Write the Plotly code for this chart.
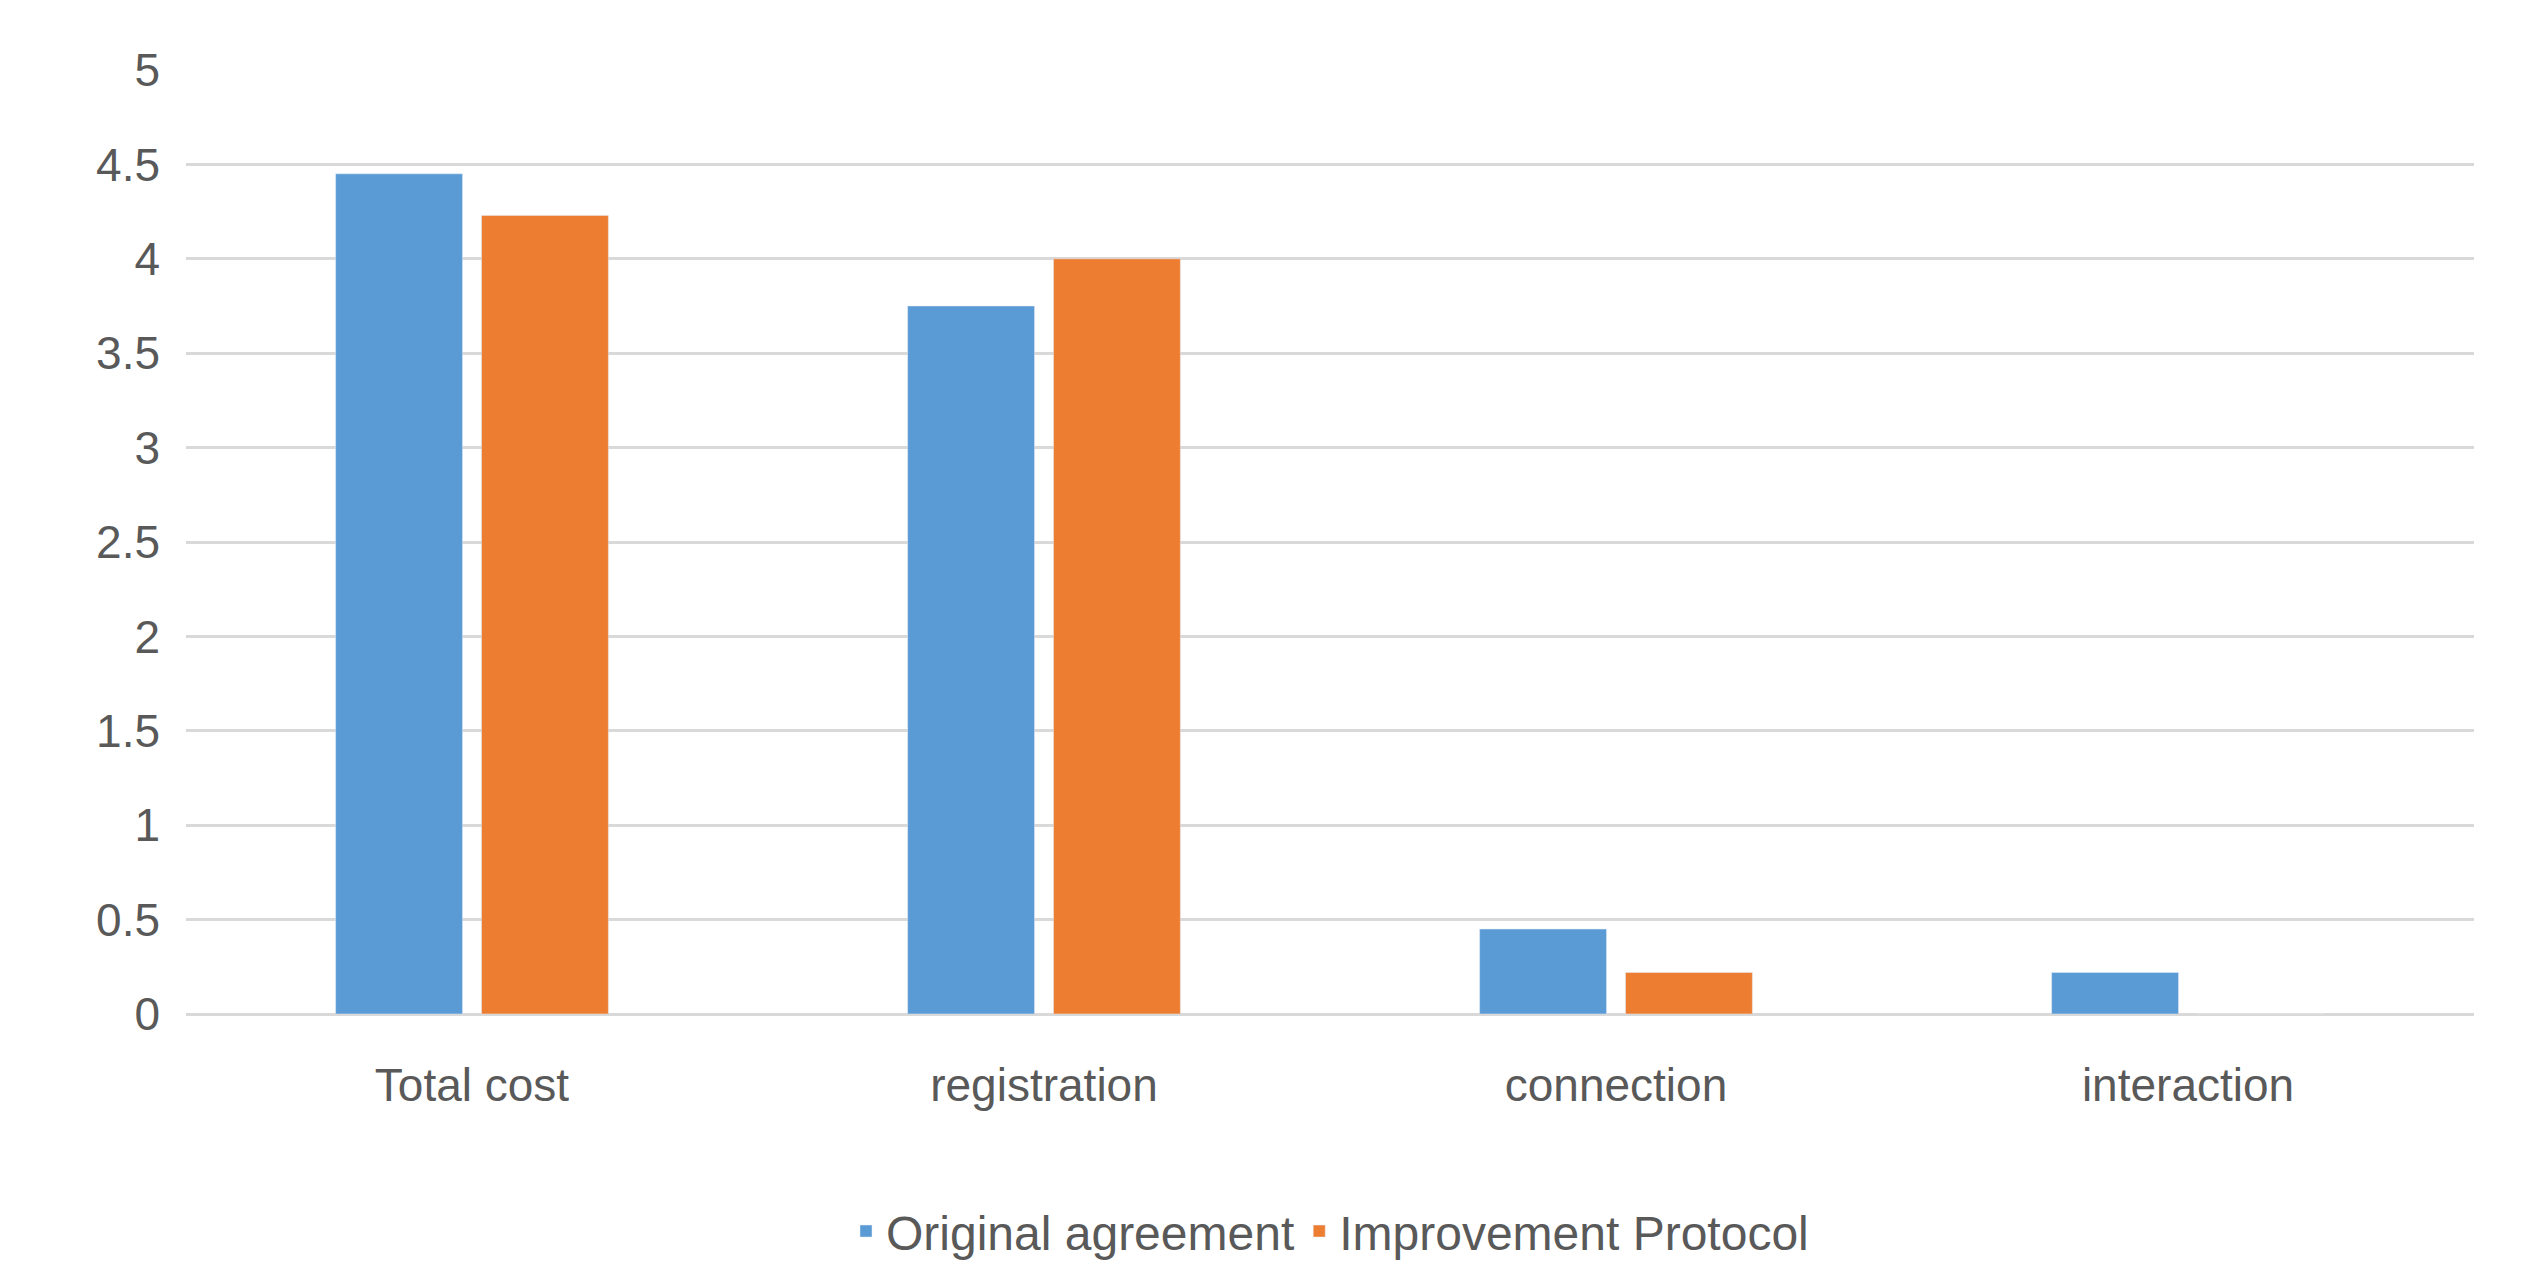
import plotly.graph_objects as go

categories = ["Total cost", "registration", "connection", "interaction"]
original = [4.45, 3.75, 0.45, 0.22]
improved = [4.23, 4.0, 0.22, 0]
tick_vals = [0, 0.5, 1, 1.5, 2, 2.5, 3, 3.5, 4, 4.5, 5]
tick_text = ["0", "0.5", "1", "1.5", "2", "2.5", "3", "3.5", "4", "4.5", "5"]

fig = go.Figure()
fig.add_bar(x=categories, y=original, name="Original agreement", marker_color="#5b9bd5")
fig.add_bar(x=categories, y=improved, name="Improvement Protocol", marker_color="#ed7d31")

fig.update_layout(
    width=2541, height=1286,
    paper_bgcolor="white", plot_bgcolor="white",
    font=dict(family="Liberation Sans, Arial", size=46, color="#595959"),
    margin=dict(l=178, r=75, t=62, b=280),
    barmode="group", bargap=0.49, bargroupgap=0.13,
    legend=dict(orientation="h", x=0.5, xanchor="center", y=-0.19, yanchor="top",
                font=dict(size=48), itemwidth=30),
    showlegend=True,
)
fig.update_yaxes(range=[0, 5], tickvals=tick_vals, ticktext=tick_text,
                 showgrid=True, gridcolor="#d9d9d9", gridwidth=3,
                 zeroline=True, zerolinecolor="#d9d9d9", zerolinewidth=3,
                 ticks="", ticklabelstandoff=25)
fig.update_xaxes(showgrid=False, ticks="", ticklabelstandoff=40, showline=False)

fig.write_html("out.html")
